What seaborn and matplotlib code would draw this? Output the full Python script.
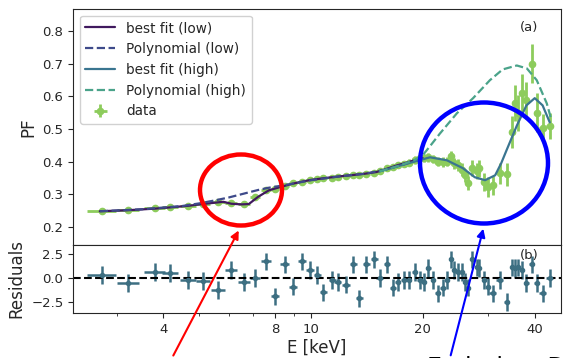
import matplotlib
matplotlib.use("Agg")
import numpy as np
import pandas as pd
import matplotlib.pyplot as plt
import seaborn as sns
from matplotlib.patches import Ellipse, FancyArrowPatch
from matplotlib.ticker import NullFormatter, ScalarFormatter

# data points (energy bins)
energy = [2.74, 3.22, 3.80, 4.18, 4.67, 5.12, 5.62, 6.09, 6.60, 7.07,
          7.57, 8.00, 8.51, 8.94, 9.46, 9.93, 10.4, 10.8, 11.4, 11.8,
          12.4, 13.0, 13.5, 14.1, 14.8, 15.3, 16.0, 16.6, 17.1, 17.8,
          18.3, 19.0, 19.6, 20.1, 20.7, 21.3, 21.9, 22.6, 23.2, 23.8,
          24.2, 24.8, 25.5, 25.9, 26.4, 27.2, 27.9, 28.4, 29.2, 29.9,
          30.8, 32.2, 33.6, 34.7, 35.3, 36.0, 36.9, 38.0, 39.3, 40.5,
          42.0, 43.9]
energy_err = [0.24, 0.22, 0.25, 0.20, 0.22, 0.22, 0.24, 0.24, 0.25, 0.24,
              0.24, 0.22, 0.24, 0.24, 0.25, 0.24, 0.22, 0.25, 0.25, 0.25,
              0.30, 0.28, 0.30, 0.32, 0.30, 0.30, 0.32, 0.28, 0.30, 0.30,
              0.32, 0.30, 0.28, 0.28, 0.30, 0.30, 0.32, 0.32, 0.30, 0.25,
              0.28, 0.32, 0.30, 0.28, 0.35, 0.38, 0.30, 0.35, 0.38, 0.40,
              0.60, 0.70, 0.60, 0.40, 0.30, 0.40, 0.50, 0.60, 0.60, 0.70,
              0.80, 1.00]
pf = [0.248, 0.251, 0.257, 0.260, 0.265, 0.271, 0.276, 0.272, 0.270, 0.291,
      0.312, 0.316, 0.326, 0.333, 0.338, 0.343, 0.346, 0.349, 0.351, 0.354,
      0.357, 0.359, 0.360, 0.363, 0.366, 0.372, 0.380, 0.384, 0.389, 0.393,
      0.397, 0.405, 0.410, 0.411, 0.413, 0.408, 0.399, 0.398, 0.400, 0.416,
      0.395, 0.389, 0.375, 0.358, 0.334, 0.380, 0.372, 0.380, 0.337, 0.322,
      0.327, 0.364, 0.361, 0.490, 0.578, 0.550, 0.609, 0.587, 0.700, 0.550,
      0.502, 0.508]
pf_err = [0.004, 0.004, 0.004, 0.004, 0.004, 0.004, 0.004, 0.004, 0.004, 0.005,
          0.005, 0.005, 0.005, 0.005, 0.005, 0.006, 0.006, 0.006, 0.006, 0.006,
          0.007, 0.007, 0.007, 0.008, 0.008, 0.008, 0.009, 0.009, 0.010, 0.010,
          0.011, 0.011, 0.012, 0.012, 0.013, 0.013, 0.014, 0.015, 0.015, 0.016,
          0.017, 0.018, 0.020, 0.020, 0.022, 0.024, 0.025, 0.026, 0.028, 0.030,
          0.030, 0.032, 0.035, 0.050, 0.055, 0.055, 0.058, 0.058, 0.060, 0.060,
          0.045, 0.040]
resid = [0.3, -0.5, 0.6, 0.5, -0.2, -0.3, -1.25, 0.8, -0.4, 0.0,
         1.7, -1.9, 1.4, -0.9, 1.7, 0.8, 0.3, -1.5, -0.2, -0.4,
         -0.7, 1.4, -2.1, 1.4, 1.9, 0.0, 1.4, -1.0, -0.4, -0.2,
         -0.2, 0.6, -0.2, -0.4, 1.0, -0.2, -1.6, -1.0, -0.2, 1.9,
         0.8, 0.6, 0.6, -0.4, -1.0, 1.9, 1.1, 1.0, -0.2, -0.9,
         -1.6, -0.2, -2.5, 1.1, 1.0, 1.1, 0.8, -0.5, 1.4, -0.5,
         -1.6, 0.0]
resid_err = 0.9

# model curves
fit_low_e = [2.70, 3.2, 3.8, 4.2, 4.7, 5.1, 5.6, 5.8, 6.1, 6.5, 6.8, 7.2,
             7.7, 8.2, 8.9, 9.5, 10.0, 11.0, 12.0, 13.0, 14.0, 15.0, 16.0,
             17.0, 18.0, 19.0, 20.0]
fit_low_pf = [0.248, 0.251, 0.256, 0.260, 0.265, 0.270, 0.275, 0.277, 0.271,
              0.269, 0.270, 0.292, 0.312, 0.321, 0.332, 0.339, 0.344, 0.350,
              0.355, 0.359, 0.363, 0.368, 0.378, 0.388, 0.396, 0.404, 0.410]
poly_low_e = [2.70, 3.5, 4.5, 5.0, 5.5, 6.0, 6.6, 7.2, 7.7, 8.2, 9.0, 10.0,
              12.0, 14.0, 16.0, 18.0, 20.0]
poly_low_pf = [0.248, 0.254, 0.264, 0.272, 0.281, 0.290, 0.302, 0.313, 0.320,
               0.325, 0.333, 0.343, 0.355, 0.363, 0.376, 0.393, 0.410]
fit_high_e = [15.3, 17.0, 19.0, 20.9, 23.2, 25.6, 27.6, 29.4, 31.3, 32.5,
              33.6, 35.8, 38.0, 40.0, 42.0, 43.9]
fit_high_pf = [0.370, 0.385, 0.400, 0.413, 0.404, 0.380, 0.352, 0.343, 0.358,
               0.395, 0.435, 0.510, 0.572, 0.594, 0.572, 0.520]
poly_high_e = [15.3, 17.0, 18.0, 19.0, 20.0, 21.0, 22.2, 24.7, 27.3, 30.3,
               32.8, 35.8, 38.1, 40.5, 43.1, 44.4]
poly_high_pf = [0.370, 0.385, 0.395, 0.405, 0.420, 0.450, 0.485, 0.548, 0.594,
                0.649, 0.682, 0.694, 0.685, 0.649, 0.578, 0.526]

c_low_fit = "#40195e"
c_low_poly = "#3e4a8a"
c_high_fit = "#3a7590"
c_high_poly = "#4aa38a"
c_data = "#8dcc5c"
c_resid = "#3d6f82"

sns.set_style("ticks")

fig = plt.figure(figsize=(5.63, 3.58), dpi=100)
gs = fig.add_gridspec(2, 1, height_ratios=[236, 68], hspace=0,
                      left=0.130, right=0.996, top=0.975, bottom=0.126)
ax1 = fig.add_subplot(gs[0])
ax2 = fig.add_subplot(gs[1], sharex=ax1)

sns.lineplot(x=fit_low_e, y=fit_low_pf, ax=ax1, color=c_low_fit, lw=1.6,
             label="best fit (low)")
sns.lineplot(x=poly_low_e, y=poly_low_pf, ax=ax1, color=c_low_poly, lw=1.6,
             linestyle="--", label="Polynomial (low)")
sns.lineplot(x=fit_high_e, y=fit_high_pf, ax=ax1, color=c_high_fit, lw=1.6,
             label="best fit (high)")
sns.lineplot(x=poly_high_e, y=poly_high_pf, ax=ax1, color=c_high_poly, lw=1.6,
             linestyle="--", label="Polynomial (high)")
ax1.errorbar(energy, pf, xerr=energy_err, yerr=pf_err, fmt="o", ms=4.5,
             color=c_data, elinewidth=2, label="data", zorder=1)

ax1.set_xscale("log")
ax1.set_xlim(2.29, 47)
ax1.set_ylim(0.145, 0.867)
ax1.set_yticks([0.2, 0.3, 0.4, 0.5, 0.6, 0.7, 0.8])
ax1.set_ylabel("PF", fontsize=12)
ax1.tick_params(axis="x", which="both", bottom=False, labelbottom=False)
ax1.tick_params(axis="y", labelsize=9.5)
ax1.text(0.935, 0.92, "(a)", transform=ax1.transAxes, ha="center",
         va="center", fontsize=9.5)
ax1.legend(loc="upper left", fontsize=9.8, handlelength=2.2,
           borderaxespad=0.5, framealpha=0.9)

ax2.errorbar(energy, resid, xerr=energy_err, yerr=resid_err, fmt="o", ms=3,
             color=c_resid, elinewidth=1.8)
ax2.axhline(0, color="black", ls="--", lw=1.5)
ax2.set_ylim(-3.6, 3.4)
ax2.set_yticks([-2.5, 0.0, 2.5])
ax2.set_ylabel("Residuals", fontsize=12)
ax2.set_xlabel("E [keV]", fontsize=12, labelpad=2)
ax2.set_xticks([4, 8, 10, 20, 40])
ax2.xaxis.set_major_formatter(ScalarFormatter())
ax2.xaxis.set_minor_formatter(NullFormatter())
ax2.tick_params(labelsize=9.5)
ax2.text(0.935, 0.85, "(b)", transform=ax2.transAxes, ha="center",
         va="center", fontsize=9.5)

# highlight annotations
fig.add_artist(Ellipse((241 / 563, 1 - 190 / 358), 82 / 563, 71 / 358,
                       transform=fig.transFigure, fill=False, ec="red",
                       lw=3.2))
fig.add_artist(Ellipse((484 / 563, 1 - 163 / 358), 128 / 563, 121 / 358,
                       transform=fig.transFigure, fill=False, ec="blue",
                       lw=3.2))
fig.add_artist(FancyArrowPatch((172 / 563, 0.0), (240 / 563, 1 - 228 / 358),
                               transform=fig.transFigure, color="red",
                               arrowstyle="-|>", mutation_scale=12, lw=1.5))
fig.add_artist(FancyArrowPatch((450 / 563, 0.0), (484 / 563, 1 - 226 / 358),
                               transform=fig.transFigure, color="blue",
                               arrowstyle="-|>", mutation_scale=12, lw=1.5))
fig.text(427 / 563, 1 - 356 / 358, "Emission  Dip", fontsize=17,
         va="top", ha="left", color="black")

fig.savefig("out.png", dpi=100)
